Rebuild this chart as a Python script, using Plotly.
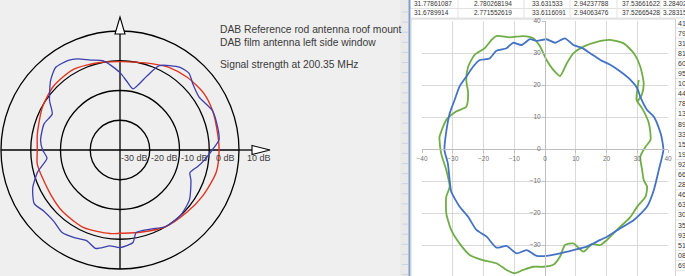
import plotly.graph_objects as go

W, H = 685, 276

# ---------------- Left panel data (polar, dB) ----------------
ref_theta = [0, 11, 23, 34, 47, 59, 69, 80, 90, 103, 120, 136, 151, 169, 180,
             190, 213, 227, 245, 263, 270, 284, 301, 317, 331, 347, 360]
ref_db = [-6.7, -6.7, -6.2, -6.0, -6.7, -7.7, -9.0, -10.0, -10.3, -9.8, -8.7, -9.0,
          -10.2, -11.7, -12.2, -11.8, -12.3, -11.7, -11.2, -11.7, -12.0, -11.5,
          -10.0, -9.3, -8.2, -6.8, -6.7]

film_theta = [0, 6, 13, 23, 34, 42, 48, 54, 65, 70, 78, 84.5, 90, 97, 100.5, 108,
              115, 120, 128, 135, 145, 152, 161, 173, 180, 186.5, 195, 203.5, 212,
              219, 227, 235, 242, 250, 256, 264, 270, 278, 281, 291, 301, 313.5,
              324.5, 337, 342, 348, 353, 360]
film_db = [-9.0, -6.5, -6.3, -6.2, -8.0, -7.0, -5.3, -5.7, -8.7, -13.5, -19.0,
           -16.7, -14.0, -11.0, -9.5, -8.2, -6.2, -5.2, -4.8, -7.0, -11.1, -14.2,
           -13.0, -13.1, -14.0, -15.3, -11.3, -8.0, -6.0, -7.2, -7.3, -6.1, -6.7,
           -7.5, -5.9, -7.6, -7.2, -8.6, -11.7, -11.5, -10.0, -10.1, -11.3, -14.1,
           -15.3, -13.3, -11.5, -9.0]

circle_db = [-30, -20, -10]
dB_tick_labels = ["-30 dB", "-20 dB", "-10 dB", "0 dB", "10 dB"]
dB_label_px = [134, 164, 194, 226, 259]

legend_lines = ["DAB Reference rod antenna roof mount",
                "DAB film antenna left side window",
                "Signal strength at 200.35 MHz"]
legend_py = [29, 42, 64]

# ---------------- Right panel data (Excel chart, x/y) ----------------
blue_x = [-4.9, -2.7, 0.5, 3.3, 6.5, 9.2, 12.0, 14.7, 18.0, 21.2, 24.5, 27.8, 30.0,
          31.0, 33.2, 35.4, 37.6, 38.1, 38.5, 37.0, 35.4, 33.2, 28.9, 24.5, 20.2,
          18.0, 13.6, 9.2, 4.9, 0.5, -2.7, -6.0, -9.2, -12.5, -15.8, -19.0, -22.3,
          -25.0, -27.8, -30.5, -31.0, -31.6, -32.7, -32.1, -31.0, -29.4, -27.8,
          -25.6, -23.4, -21.2, -18.0, -15.8, -12.5, -10.4, -7.6, -4.9]
blue_y = [34.3, 33.8, 34.3, 33.2, 34.6, 32.5, 31.6, 29.9, 27.8, 26.3, 24.2, 21.6,
          19.0, 16.3, 12.2, 10.1, 4.9, 2.8, -0.3, -6.6, -12.8, -18.0, -22.2, -24.8,
          -27.4, -28.4, -30.5, -31.6, -32.6, -33.4, -33.4, -31.6, -32.6, -30.3,
          -30.8, -27.4, -25.3, -21.2, -18.0, -13.3, -9.7, -4.5, -0.3, 5.5, 11.1,
          15.3, 19.5, 22.6, 25.7, 27.8, 28.3, 30.7, 31.5, 33.2, 32.5, 34.3]

green_x = [30.5, 29.8, 31.6, 33.8, 34.3, 32.7, 31.0, 31.6, 32.1, 33.2, 32.7, 30.0,
           27.8, 23.4, 20.2, 18.0, 15.3, 12.5, 9.2, 6.5, 4.9, 2.7, -0.5, -3.8, -7.1,
           -9.8, -12.5, -15.8, -20.2, -24.5, -27.8, -30.5, -32.1, -32.1, -31.0,
           -32.1, -33.8, -34.3, -34.3, -32.1, -28.9, -25.6, -25.0, -25.6, -25.0,
           -22.9, -19.6, -17.4, -15.8, -11.4, -7.1, -3.8, -1.6, 0.5, 2.7, 4.9, 7.1,
           9.2, 12.5, 16.9, 21.2, 25.6, 28.9, 31.0, 32.1, 31.5, 30.2]
green_y = [21.6, 15.3, 12.7, 8.0, 2.8, 0.7, -2.4, -6.6, -9.7, -11.8, -14.9, -18.0,
           -21.2, -25.3, -28.4, -30.0, -29.7, -32.1, -29.5, -30.0, -33.6, -36.2,
           -36.8, -36.8, -37.8, -38.8, -37.8, -35.7, -34.7, -33.1, -29.5, -25.3,
           -20.1, -14.9, -11.8, -6.6, -1.3, 2.8, 3.8, 9.1, 11.7, 13.2, 17.4, 21.6,
           25.7, 29.4, 31.5, 34.1, 35.3, 34.9, 35.3, 34.6, 32.0, 27.8, 24.7, 22.8,
           26.8, 29.9, 32.0, 33.5, 34.1, 33.0, 29.9, 25.7, 20.5, 17.0, 15.0]

sheet_row1 = ["31.77861087", "2.780268194", "33.631533", "2.94237788", "37.53661622", "3.28402"]
sheet_row2 = ["31.6789914", "2.771552619", "33.6116091", "2.94063476", "37.52665428", "3.28315"]
sheet_col_left_px = [412, 472, 530, 572, 620, 661]
side_col = ["41", "79", "31", "81", "60", "95", "10", "44", "78", "13", "89", "33", "15",
            "19", "92", "66", "28", "46", "63", "30", "35", "93", "51", "08", "69"]


def PX(px):
    return px / W


def PY(py):
    return 1 - py / H


fig = go.Figure()

fig.add_trace(go.Scatterpolar(r=ref_db, theta=ref_theta, mode="lines",
                              line=dict(color="#e2341f", width=1.4, shape="spline", smoothing=0.7),
                              showlegend=False))
fig.add_trace(go.Scatterpolar(r=film_db, theta=film_theta, mode="lines",
                              line=dict(color="#3d3fae", width=1.3, shape="spline", smoothing=0.6),
                              showlegend=False))

fig.add_trace(go.Scatter(x=green_x, y=green_y, mode="lines",
                         line=dict(color="#70ad47", width=1.8, shape="spline", smoothing=0.6),
                         showlegend=False))
fig.add_trace(go.Scatter(x=blue_x, y=blue_y, mode="lines",
                         line=dict(color="#4472c4", width=1.8, shape="spline", smoothing=0.6),
                         showlegend=False))

cx, cy, R = 120, 150, 119
fig.update_layout(
    width=W, height=H, margin=dict(l=0, r=0, t=0, b=0, autoexpand=False),
    paper_bgcolor="#efefef", plot_bgcolor="white", hovermode=False,
    polar=dict(
        domain=dict(x=[PX(cx - R), PX(cx + R)], y=[PY(cy + R), PY(cy - R)]),
        bgcolor="rgba(0,0,0,0)",
        radialaxis=dict(range=[-40, 0], tickvals=circle_db, showgrid=True,
                        gridcolor="black", gridwidth=1.3, showline=False,
                        showticklabels=False, ticks=""),
        angularaxis=dict(tickvals=[0, 90, 180, 270], showgrid=True, gridcolor="black",
                         gridwidth=1.3, showline=True, linecolor="black", linewidth=1.3,
                         showticklabels=False, ticks=""),
    ),
    xaxis=dict(domain=[PX(422), PX(668)], range=[-40, 40], dtick=10, tick0=0,
               anchor="free", position=PY(149), showgrid=True, gridcolor="#d9d9d9",
               gridwidth=1, zeroline=False, showline=True, linecolor="#bfbfbf",
               ticks="outside", ticklen=3, tickcolor="#bfbfbf",
               tickfont=dict(size=6.5, color="#6f6f6f", family="Liberation Sans")),
    yaxis=dict(domain=[0, PY(21)], range=[(149 - 276) / 3.2, 40], dtick=10, tick0=0,
               anchor="free", position=PX(545), showgrid=True, gridcolor="#d9d9d9",
               gridwidth=1, zeroline=False, showline=True, linecolor="#bfbfbf",
               ticks="outside", ticklen=3, tickcolor="#bfbfbf",
               tickfont=dict(size=6.5, color="#6f6f6f", family="Liberation Sans")),
)

shapes = []
# spreadsheet background
shapes.append(dict(type="rect", xref="paper", yref="paper", x0=PX(400), x1=1, y0=0, y1=1,
                   fillcolor="white", line=dict(width=0), layer="below"))
shapes.append(dict(type="rect", xref="paper", yref="paper", x0=PX(400), x1=PX(409), y0=0, y1=1,
                   fillcolor="#e9e9ea", line=dict(width=0), layer="below"))
for k in range(27):
    shapes.append(dict(type="line", xref="paper", yref="paper", x0=PX(402), x1=PX(408),
                       y0=PY(12 + k * 10.1), y1=PY(12 + k * 10.1),
                       line=dict(color="#cdd3dc", width=1), layer="below"))
shapes.append(dict(type="line", xref="paper", yref="paper", x0=PX(409.5), x1=PX(409.5), y0=0, y1=1,
                   line=dict(color="#7f9fcc", width=2), layer="below"))
# spreadsheet cell lines
for py in [8.5, 18]:
    shapes.append(dict(type="line", xref="paper", yref="paper", x0=PX(411), x1=1,
                       y0=PY(py), y1=PY(py), line=dict(color="#e2e2e2", width=1), layer="below"))
for px in [458, 524, 570, 617, 660]:
    shapes.append(dict(type="line", xref="paper", yref="paper", x0=PX(px), x1=PX(px),
                       y0=PY(0), y1=PY(18), line=dict(color="#e2e2e2", width=1), layer="below"))
for k in range(26):
    shapes.append(dict(type="line", xref="paper", yref="paper", x0=PX(676), x1=1,
                       y0=PY(18 + k * 10.1), y1=PY(18 + k * 10.1),
                       line=dict(color="#e6e6e6", width=1), layer="below"))
# chart area
shapes.append(dict(type="rect", xref="paper", yref="paper", x0=PX(411), x1=PX(675.5),
                   y0=PY(277), y1=PY(19), fillcolor="white",
                   line=dict(color="#d4d4d4", width=1), layer="below"))

# left panel axis extensions and arrows
shapes.append(dict(type="line", xref="paper", yref="paper", x0=PX(cx + R), x1=PX(253),
                   y0=PY(cy), y1=PY(cy), line=dict(color="black", width=1.3), layer="above"))
shapes.append(dict(type="line", xref="paper", yref="paper", x0=PX(cx), x1=PX(cx),
                   y0=PY(cy - R), y1=PY(32), line=dict(color="black", width=1.3), layer="above"))
shapes.append(dict(type="path", xref="paper", yref="paper",
                   path=f"M {PX(252)} {PY(145.5)} L {PX(270)} {PY(150)} L {PX(252)} {PY(154.5)} Z",
                   fillcolor="white", line=dict(color="black", width=1.1), layer="above"))
shapes.append(dict(type="path", xref="paper", yref="paper",
                   path=f"M {PX(115)} {PY(34)} L {PX(120)} {PY(17)} L {PX(125)} {PY(34)} Z",
                   fillcolor="white", line=dict(color="black", width=1.1), layer="above"))
fig.update_layout(shapes=shapes)

ann = []
for txt, px in zip(dB_tick_labels, dB_label_px):
    ann.append(dict(text=txt, x=PX(px), y=PY(158), xref="paper", yref="paper",
                    showarrow=False, xanchor="center", yanchor="middle",
                    font=dict(size=9, color="#3c3c3c", family="Liberation Sans")))
for txt, py in zip(legend_lines, legend_py):
    ann.append(dict(text=txt, x=PX(218), y=PY(py), xref="paper", yref="paper",
                    showarrow=False, xanchor="left", yanchor="middle",
                    font=dict(size=10.3, color="#3a3a3a", family="Liberation Sans")))
for row, py in [(sheet_row1, 3.5), (sheet_row2, 13)]:
    for txt, px in zip(row, sheet_col_left_px):
        ann.append(dict(text=txt, x=PX(px), y=PY(py), xref="paper", yref="paper",
                        showarrow=False, xanchor="left", yanchor="middle",
                        font=dict(size=6.5, color="#333333", family="Liberation Sans")))
for k, txt in enumerate(side_col):
    ann.append(dict(text=txt, x=PX(676), y=PY(23 + k * 10.1), xref="paper", yref="paper",
                    showarrow=False, xanchor="left", yanchor="middle",
                    font=dict(size=7, color="#333333", family="Liberation Sans")))
fig.update_layout(annotations=ann)

fig.write_html("out.html", config={"displayModeBar": False, "staticPlot": True},
               post_script="document.body.style.margin='0';document.body.style.padding='0';")
